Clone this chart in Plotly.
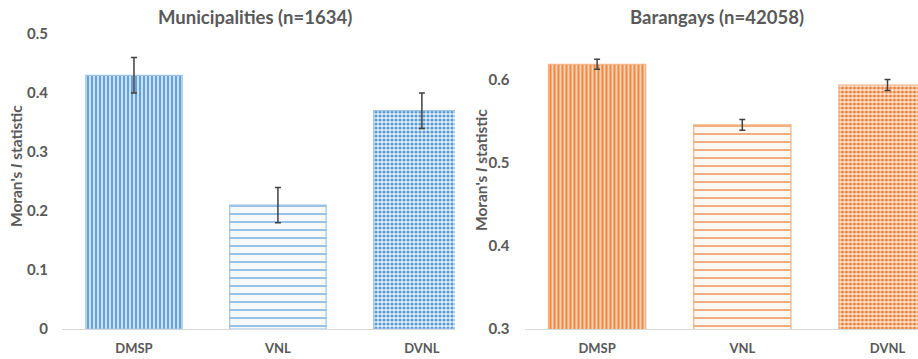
import plotly.graph_objects as go

categories = ["DMSP", "VNL", "DVNL"]
muni_values = [0.43, 0.21, 0.37]
muni_errors = [0.03, 0.03, 0.03]
bgy_values = [0.619, 0.546, 0.594]
bgy_errors = [0.006, 0.0065, 0.0065]
muni_title = "Municipalities (n=1634)"
bgy_title = "Barangays (n=42058)"
y_title = "Moran's <i>I</i> statistic"

BLUE = "#5B9BD5"
ORANGE = "#ED7D31"
GRAY = "#595959"
FONT = "Lato"

shapes = ["|", "-", "."]
sizes = [4, 8, 4]
solid = [0.45, 0.15, 0.5]


def add_bars(fig, values, errors, color, light, bgs, xa, ya):
    for i, c in enumerate(categories):
        fig.add_trace(go.Bar(
            x=[c], y=[values[i]], xaxis=xa, yaxis=ya,
            width=0.67, showlegend=False,
            marker=dict(
                color=bgs[i],
                line=dict(color=light, width=1.2),
                pattern=dict(shape=shapes[i], size=sizes[i], solidity=solid[i],
                             fgcolor=color, bgcolor=bgs[i], fillmode="replace"),
            ),
            error_y=dict(type="data", array=[errors[i]], color="#404040",
                         thickness=1.5, width=3),
        ))


fig = go.Figure()
add_bars(fig, muni_values, muni_errors, BLUE, "#9DC3E6",
         ["#C9DFF2", "#F6FAFD", "#E6F0F9"], "x", "y")
add_bars(fig, bgy_values, bgy_errors, ORANGE, "#F4B183",
         ["#F9D3B8", "#FEF8F3", "#FBE7D9"], "x2", "y2")

ydom = [1 - 329 / 359, 1 - 34 / 359]
tickfont = dict(family=FONT, size=15, color=GRAY, weight="bold")
common_x = dict(type="category", categoryorder="array", categoryarray=categories,
                showline=True, linecolor="#D9D9D9", linewidth=1, ticks="",
                tickfont=dict(family=FONT, size=13, color=GRAY, weight="bold"), showgrid=False,
                zeroline=False, ticklabelstandoff=7, automargin=False)
common_y = dict(showgrid=False, zeroline=False, showline=False, ticks="",
                tickfont=tickfont, domain=ydom, automargin=False)

title_font = dict(family=FONT, size=18.5, color=GRAY, weight="bold")
ytitle_font = dict(family=FONT, size=15.5, color=GRAY, weight="bold")

fig.update_layout(
    width=918, height=359, margin=dict(l=0, r=0, t=0, b=0),
    paper_bgcolor="white", plot_bgcolor="white",
    xaxis=dict(domain=[62 / 918, 455 / 918], range=[-0.5, 2.23], anchor="y", **common_x),
    yaxis=dict(range=[0, 0.5], tickvals=[0, 0.1, 0.2, 0.3, 0.4, 0.5],
               ticktext=["0", "0.1", "0.2", "0.3", "0.4", "0.5"], anchor="x",
               ticklabelstandoff=13, **common_y),
    xaxis2=dict(domain=[524.5 / 918, 1.0], range=[-0.5, 2.21], anchor="y2", **common_x),
    yaxis2=dict(range=[0.3, 0.3 + (329 - 34) / 830], tickvals=[0.3, 0.4, 0.5, 0.6],
                ticktext=["0.3", "0.4", "0.5", "0.6"], anchor="x2",
                ticklabelstandoff=14, **common_y),
    annotations=[
        dict(text=muni_title, x=255 / 918, y=1 - 17 / 359, xref="paper", yref="paper",
             xanchor="center", yanchor="middle", showarrow=False, font=title_font),
        dict(text=bgy_title, x=717 / 918, y=1 - 17 / 359, xref="paper", yref="paper",
             xanchor="center", yanchor="middle", showarrow=False, font=title_font),
        dict(text=y_title, x=16 / 918, y=1 - 166 / 359, xref="paper", yref="paper",
             xanchor="center", yanchor="middle", showarrow=False, textangle=-90, font=ytitle_font),
        dict(text=y_title, x=481 / 918, y=1 - 170 / 359, xref="paper", yref="paper",
             xanchor="center", yanchor="middle", showarrow=False, textangle=-90, font=ytitle_font),
    ],
)

fig.write_html("out.html")
